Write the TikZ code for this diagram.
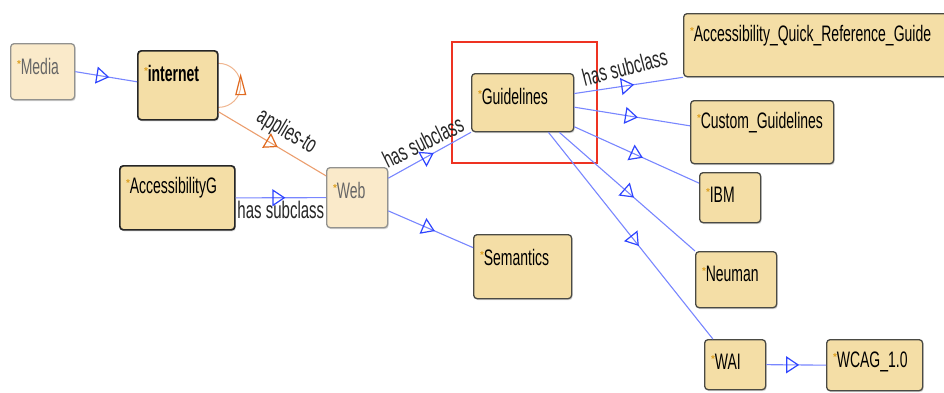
\documentclass[tikz,border=0pt]{standalone}
\usepackage{fontspec}
\setmainfont{Liberation Sans}
\usetikzlibrary{arrows.meta,decorations.markings,shadows,backgrounds}

\definecolor{clsfill}{HTML}{F4DEA6}
\definecolor{clsfilllt}{HTML}{FAEACA}
\definecolor{clsline}{HTML}{4A4A44}
\definecolor{subblue}{HTML}{2F45FF}
\definecolor{appor}{HTML}{E06A20}
\definecolor{starc}{HTML}{DDA020}
\definecolor{selred}{HTML}{EE3322}

\newcommand{\vstretch}[1]{\scalebox{1}[1.6]{#1}}
\newcommand{\cname}[1]{{\color{starc}\raisebox{7pt}{\fontsize{10}{10}\selectfont\textbf{*}}}\kern-0.3pt\vstretch{#1}}

\tikzset{
  cls/.style={draw=clsline, fill=clsfill, line width=1.3pt, rounded corners=3.5pt, anchor=north west, inner sep=0pt,
    drop shadow={shadow xshift=1pt, shadow yshift=-1.5pt, opacity=0.3}},
  clslt/.style={cls, fill=clsfilllt, draw=clsline!60},
  clsdark/.style={cls, line width=1.7pt, draw=black!85},
  ctext/.style={label={[anchor=west, xshift=7pt, yshift=-23pt, inner sep=0pt, font=\fontsize{14}{16}\selectfont]north west:{\cname{#1}}}},
  ctextlt/.style={label={[anchor=west, xshift=7pt, yshift=-23pt, inner sep=0pt, text=black!60, font=\fontsize{14}{16}\selectfont]north west:{\cname{#1}}}},
  edgetext/.style={font=\fontsize{15}{17}\selectfont, inner sep=1.5pt, text=black!85},
  subof/.style={draw=subblue!65, line width=1.1pt, postaction=decorate,
    decoration={markings, mark=at position 0.55 with {\arrow[subblue, line width=1.2pt]{Triangle[open, length=13pt, width=17pt]}}}},
  appto/.style={draw=appor!65, line width=1.1pt, postaction=decorate,
    decoration={markings, mark=at position 0.55 with {\arrow[appor, line width=1.2pt]{Triangle[open, length=13pt, width=17pt]}}}},
  apploop/.style={draw=appor!50, line width=1pt, postaction=decorate,
    decoration={markings, mark=at position 0.001 with {\arrow[appor, line width=1.2pt, xshift=12pt]{Triangle[open, length=22pt, width=11pt]}}}}
}

\begin{document}
\begin{tikzpicture}[x=1pt, y=-1pt]
  \useasboundingbox (0,0) rectangle (944,392);

  % selection frame
  \node (sel) at (451,41) [draw=selred, line width=1.5pt, anchor=north west, inner sep=0pt, minimum width=145pt, minimum height=121pt] {};

  % left part
  \node (media) at (10,43) [clslt, minimum width=64pt, minimum height=56pt, ctextlt=Media] {};
  \node (internet) at (137,50) [clsdark, minimum width=80pt, minimum height=69pt, ctext=\textbf{internet}] {};
  \node (accg) at (119,165) [clsdark, minimum width=115pt, minimum height=64pt, ctext=AccessibilityG] {};
  \node (web) at (326,167) [clslt, minimum width=61pt, minimum height=60pt, ctextlt=Web] {};

  % middle
  \node (guide) at (471,73) [cls, minimum width=102pt, minimum height=58pt, ctext=Guidelines] {};
  \node (sem) at (473,234) [cls, minimum width=98pt, minimum height=64pt, ctext=Semantics] {};

  % right column
  \node (aqrg) at (683,13) [cls, minimum width=275pt, minimum height=63pt, ctext=Accessibility\_Quick\_Reference\_Guide] {};
  \node (custom) at (690,100) [cls, minimum width=143pt, minimum height=63pt, ctext=Custom\_Guidelines] {};
  \node (ibm) at (699,172) [cls, minimum width=61pt, minimum height=50pt, ctext=IBM] {};
  \node (neuman) at (695,251) [cls, minimum width=81pt, minimum height=56pt, ctext=Neuman] {};
  \node (wai) at (704,339) [cls, minimum width=61pt, minimum height=50pt, ctext=WAI] {};
  \node (wcag) at (826,339) [cls, minimum width=96pt, minimum height=51pt, ctext=WCAG\_1.0] {};

  % has subclass
  \draw[subof] (media.east) -- (internet.175);
  \draw[subof] (accg.east) -- node[below=1pt, edgetext] {\vstretch{has subclass}} (web.west);
  \draw[subof] (web.32) -- node[sloped, above=4pt, pos=0.5, rotate=-3, edgetext] {\vstretch{has subclass}} (guide.south west);
  \draw[subof] (web.337) -- (sem.159);
  \draw[subof] (guide.10) -- node[sloped, above=8pt, rotate=6, edgetext] {\vstretch{has subclass}} (aqrg.south west);
  \draw[subof] (guide.355) -- (custom.175);
  \draw[subof] (guide.335) -- (ibm.155);
  \draw[subof] (guide.321) -- (neuman.north west);
  \draw[subof] (guide.311) -- (wai.131);
  \draw[subof] (wai.east) -- (wcag.west);

  % applies-to
  \draw[appto] (internet.327) -- node[sloped, above=4pt, pos=0.55, edgetext] {\vstretch{applies-to}} (web.145);
  \begin{pgfonlayer}{background}
    \draw[apploop] (internet.east) circle[radius=22pt];
  \end{pgfonlayer}
\end{tikzpicture}
\end{document}
